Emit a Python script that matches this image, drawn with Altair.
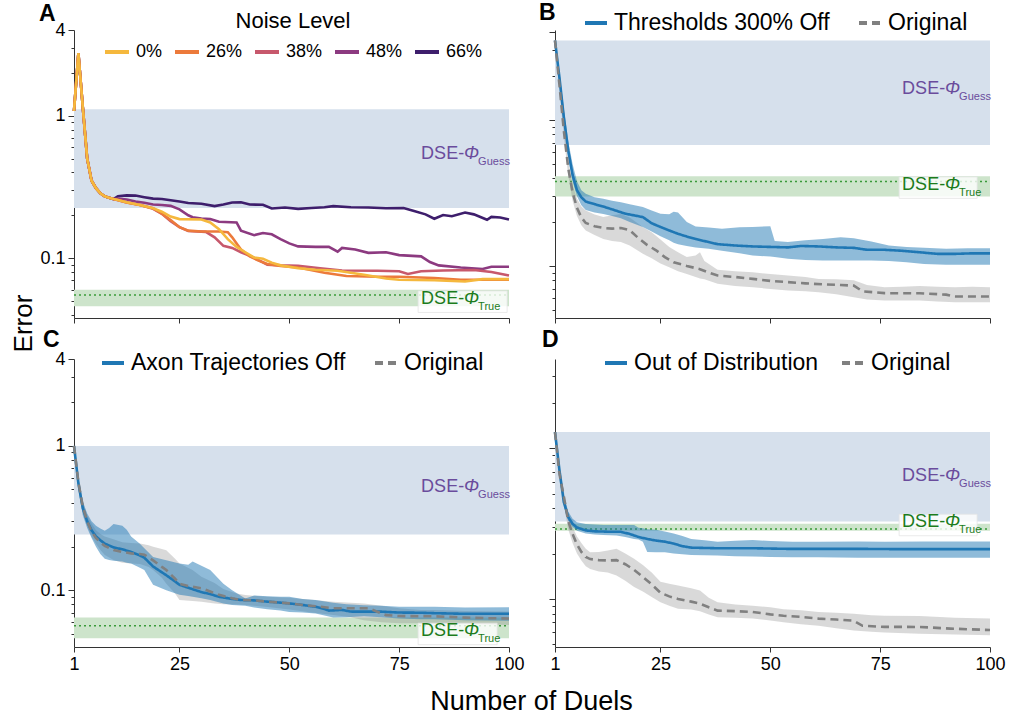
import altair as alt
import pandas as pd

FONT = "Liberation Sans"
W, H = 435, 288

# ---------------- data ----------------
NOISE_LEVELS = ["0%", "26%", "38%", "48%", "66%"]
NOISE_COLORS = ["#F5B83D", "#EC7A3B", "#C7586C", "#8C3A80", "#3E1E6C"]

A_START = [(1, 1.08), (2, 2.75), (3, 1.15), (4, 0.50), (5, 0.35), (6, 0.31),
           (7, 0.285), (8, 0.272), (9, 0.265), (10, 0.26)]
A_66 = [(11, 0.272), (13, 0.276), (15, 0.275), (17, 0.268), (19, 0.262), (21, 0.26), (23, 0.255),
        (25, 0.25), (27, 0.244), (30, 0.241), (33, 0.232), (35, 0.238), (37, 0.246), (39, 0.247),
        (41, 0.238), (44, 0.237), (46, 0.223), (49, 0.227), (52, 0.222), (55, 0.225), (58, 0.228),
        (60, 0.232), (64, 0.228), (68, 0.227), (72, 0.224), (76, 0.225), (78, 0.216), (81, 0.203),
        (83, 0.189), (85, 0.201), (87, 0.197), (90, 0.209), (92, 0.203), (95, 0.186), (96, 0.195),
        (98, 0.193), (100, 0.187)]
A_48 = [(11, 0.262), (13, 0.258), (15, 0.25), (17, 0.245), (19, 0.238), (21, 0.236), (23, 0.233),
        (25, 0.22), (27, 0.2), (28, 0.194), (30, 0.19), (32, 0.188), (34, 0.18), (38, 0.178),
        (39, 0.156), (42, 0.145), (44, 0.150), (46, 0.147), (48, 0.136), (50, 0.127), (52, 0.121),
        (56, 0.12), (59, 0.12), (61, 0.111), (62, 0.118), (65, 0.115), (68, 0.109), (72, 0.11),
        (75, 0.105), (80, 0.103), (82, 0.094), (84, 0.089), (89, 0.086), (94, 0.084), (96, 0.087),
        (100, 0.087)]
A_38 = [(11, 0.255), (13, 0.246), (16, 0.236), (19, 0.222), (21, 0.205), (23, 0.182), (25, 0.165),
        (27, 0.155), (31, 0.153), (33, 0.14), (35, 0.122), (37, 0.118), (39, 0.11), (41, 0.104),
        (43, 0.097), (45, 0.09), (48, 0.089), (52, 0.0885), (57, 0.085), (62, 0.082), (70, 0.0815),
        (75, 0.081), (77, 0.0775), (80, 0.081), (85, 0.082), (92, 0.0825), (96, 0.08), (100, 0.0755)]
A_26 = [(11, 0.256), (13, 0.246), (16, 0.236), (19, 0.224), (21, 0.205), (23, 0.185), (25, 0.165),
        (27, 0.156), (30, 0.154), (34, 0.154), (36, 0.152), (37, 0.14), (39, 0.115), (41, 0.103),
        (43, 0.096), (45, 0.091), (48, 0.088), (52, 0.086), (58, 0.079), (63, 0.075), (70, 0.074),
        (75, 0.074), (83, 0.0725), (89, 0.0705), (100, 0.0705)]
A_0 = [(11, 0.256), (13, 0.247), (16, 0.236), (19, 0.224), (21, 0.212), (23, 0.196), (25, 0.188),
       (30, 0.187), (32, 0.178), (34, 0.16), (36, 0.136), (38, 0.12), (40, 0.11), (42, 0.101),
       (44, 0.099), (46, 0.093), (48, 0.089), (52, 0.085), (56, 0.083), (61, 0.0815), (67, 0.0765),
       (72, 0.072), (75, 0.0705), (83, 0.070), (90, 0.0686), (94, 0.0712), (100, 0.0712)]

# panel B: thresholds 300% off
B_MAIN = [(1, 3.5), (2, 1.96), (3, 1.05), (4, 0.62), (5, 0.42), (6, 0.33), (7, 0.295), (8, 0.276),
          (10, 0.265), (12, 0.255), (14, 0.244), (17, 0.228), (19, 0.222), (21, 0.216), (23, 0.196),
          (25, 0.185), (27, 0.175), (29, 0.166), (31, 0.159), (33, 0.153), (35, 0.148), (38, 0.141),
          (42, 0.138), (46, 0.136), (50, 0.135), (54, 0.134), (57, 0.137), (61, 0.136), (65, 0.134),
          (69, 0.133), (72, 0.129), (76, 0.129), (80, 0.127), (84, 0.124), (88, 0.121), (92, 0.121),
          (96, 0.122), (100, 0.122)]
B_MAIN_BAND = [(1, 3.5, 3.5), (2, 1.8, 2.15), (3, 0.95, 1.2), (4, 0.55, 0.72), (5, 0.38, 0.5),
               (6, 0.3, 0.38), (7, 0.26, 0.33), (8, 0.242, 0.312), (10, 0.232, 0.296), (12, 0.227, 0.288),
               (14, 0.22, 0.28), (16, 0.212, 0.273), (18, 0.2, 0.265), (21, 0.185, 0.253), (23, 0.172, 0.24),
               (25, 0.16, 0.228), (27, 0.15, 0.226), (28, 0.144, 0.235), (29, 0.141, 0.232), (31, 0.137, 0.2),
               (33, 0.134, 0.186), (36, 0.131, 0.183), (39, 0.127, 0.18), (43, 0.122, 0.184), (46, 0.118, 0.185),
               (50, 0.116, 0.187), (51, 0.115, 0.148), (54, 0.112, 0.146), (58, 0.11, 0.15), (62, 0.109, 0.153),
               (66, 0.109, 0.157), (69, 0.109, 0.155), (73, 0.109, 0.147), (77, 0.108, 0.138), (81, 0.106, 0.135),
               (85, 0.103, 0.133), (90, 0.102, 0.131), (95, 0.102, 0.132), (100, 0.102, 0.132)]
B_ORIG = [(1, 3.5), (2, 1.75), (3, 0.85), (4, 0.47), (5, 0.32), (6, 0.25), (7, 0.215), (8, 0.197),
          (10, 0.187), (12, 0.182), (14, 0.18), (16, 0.182), (18, 0.176), (20, 0.155), (22, 0.139),
          (24, 0.128), (26, 0.115), (28, 0.106), (31, 0.1), (34, 0.095), (36, 0.09), (38, 0.086),
          (42, 0.084), (46, 0.0815), (50, 0.079), (54, 0.0775), (58, 0.076), (62, 0.0748), (66, 0.074),
          (69, 0.0733), (71, 0.067), (76, 0.0651), (84, 0.065), (90, 0.0636), (92, 0.0618), (100, 0.0617)]
B_ORIG_BAND = [(1, 3.5, 3.5), (2, 1.6, 1.9), (3, 0.77, 0.95), (4, 0.42, 0.53), (5, 0.28, 0.36),
               (6, 0.22, 0.29), (7, 0.19, 0.255), (8, 0.175, 0.24), (10, 0.163, 0.225), (12, 0.153, 0.216),
               (14, 0.148, 0.222), (16, 0.146, 0.227), (18, 0.138, 0.215), (21, 0.121, 0.185), (23, 0.113, 0.17),
               (25, 0.104, 0.152), (27, 0.098, 0.135), (29, 0.092, 0.124), (31, 0.088, 0.115), (33, 0.084, 0.118),
               (34, 0.082, 0.124), (35, 0.081, 0.108), (38, 0.0755, 0.094), (42, 0.073, 0.092), (46, 0.0715, 0.0905),
               (50, 0.0695, 0.088), (54, 0.0678, 0.086), (58, 0.067, 0.084), (61, 0.066, 0.0815), (65, 0.064, 0.081),
               (69, 0.0611, 0.0798), (72, 0.059, 0.074), (76, 0.058, 0.0715), (80, 0.058, 0.072), (84, 0.058, 0.073),
               (88, 0.057, 0.072), (92, 0.0563, 0.0715), (96, 0.0563, 0.072), (100, 0.0563, 0.0715)]

# panel C: axon trajectories off
C_MAIN = [(1, 1.0), (2, 0.55), (3, 0.37), (4, 0.30), (5, 0.26), (6, 0.236), (7, 0.222), (8, 0.21),
          (10, 0.198), (12, 0.192), (14, 0.184), (16, 0.174), (17, 0.168), (19, 0.146), (21, 0.133),
          (22, 0.127), (24, 0.115), (25, 0.109), (27, 0.104), (30, 0.097), (32, 0.094), (34, 0.09),
          (37, 0.087), (39, 0.0855), (42, 0.085), (45, 0.0833), (48, 0.082), (50, 0.081), (53, 0.079),
          (56, 0.0767), (58, 0.074), (59, 0.0722), (62, 0.073), (64, 0.0711), (68, 0.071), (71, 0.071),
          (75, 0.07), (80, 0.0698), (83, 0.0693), (90, 0.0686), (100, 0.0686)]
C_MAIN_BAND = [(1, 1.0, 1.0), (2, 0.5, 0.6), (3, 0.33, 0.41), (4, 0.27, 0.34), (5, 0.23, 0.3),
               (6, 0.2, 0.28), (7, 0.178, 0.268), (8, 0.165, 0.258), (9, 0.162, 0.27), (10, 0.16, 0.288),
               (12, 0.158, 0.28), (13, 0.155, 0.262), (14, 0.153, 0.236), (16, 0.143, 0.21), (17, 0.138, 0.195),
               (19, 0.109, 0.17), (22, 0.1, 0.161), (25, 0.093, 0.153), (27, 0.091, 0.15), (28, 0.09, 0.158),
               (30, 0.088, 0.148), (32, 0.0855, 0.138), (35, 0.081, 0.111), (37, 0.079, 0.1), (40, 0.078, 0.0876),
               (42, 0.076, 0.092), (45, 0.0739, 0.0909), (48, 0.0722, 0.09), (50, 0.0706, 0.0899), (53, 0.07, 0.087),
               (56, 0.069, 0.0855), (60, 0.0646, 0.082), (63, 0.065, 0.08), (67, 0.066, 0.0785), (71, 0.065, 0.078),
               (75, 0.0637, 0.0767), (80, 0.063, 0.0767), (83, 0.063, 0.0767), (90, 0.062, 0.076), (100, 0.0613, 0.0761)]
C_ORIG = [(1, 1.0), (2, 0.56), (3, 0.38), (4, 0.3), (5, 0.255), (6, 0.23), (7, 0.215), (8, 0.203),
          (10, 0.19), (12, 0.184), (14, 0.18), (16, 0.178), (17, 0.176), (19, 0.161), (21, 0.145),
          (22, 0.138), (24, 0.12), (25, 0.111), (27, 0.107), (30, 0.103), (32, 0.098), (34, 0.0928),
          (37, 0.088), (39, 0.0855), (42, 0.085), (45, 0.0833), (50, 0.081), (53, 0.079), (56, 0.0775),
          (60, 0.0749), (64, 0.075), (68, 0.0749), (70, 0.071), (72, 0.0672), (75, 0.0662), (80, 0.066),
          (83, 0.066), (90, 0.0646), (95, 0.064), (100, 0.0637)]
C_ORIG_BAND = [(1, 1.0, 1.0), (2, 0.52, 0.6), (3, 0.35, 0.42), (4, 0.28, 0.33), (5, 0.235, 0.29),
               (6, 0.21, 0.26), (7, 0.19, 0.245), (8, 0.175, 0.236), (10, 0.162, 0.225), (12, 0.155, 0.215),
               (14, 0.153, 0.212), (16, 0.152, 0.211), (18, 0.145, 0.205), (19, 0.138, 0.2), (21, 0.122, 0.193),
               (22, 0.111, 0.189), (24, 0.095, 0.165), (25, 0.0855, 0.153), (28, 0.084, 0.138), (30, 0.083, 0.124),
               (33, 0.081, 0.112), (35, 0.08, 0.102), (38, 0.0795, 0.095), (40, 0.079, 0.0925), (45, 0.0765, 0.09),
               (50, 0.0735, 0.0885), (55, 0.07, 0.086), (60, 0.0672, 0.0833), (64, 0.065, 0.082), (67, 0.062, 0.081),
               (71, 0.06, 0.078), (75, 0.0589, 0.0749), (80, 0.0589, 0.073), (83, 0.0588, 0.073), (90, 0.0585, 0.0718),
               (100, 0.0573, 0.0711)]

# panel D: out of distribution
D_MAIN = [(1, 1.28), (2, 0.72), (3, 0.44), (4, 0.35), (5, 0.315), (6, 0.298), (8, 0.285), (10, 0.281),
          (12, 0.28), (14, 0.279), (16, 0.279), (18, 0.27), (20, 0.258), (22, 0.25), (24, 0.244), (26, 0.24),
          (28, 0.233), (30, 0.224), (32, 0.219), (35, 0.218), (38, 0.217), (42, 0.217), (46, 0.217),
          (50, 0.216), (54, 0.215), (60, 0.215), (70, 0.215), (80, 0.214), (90, 0.214), (100, 0.214)]
D_MAIN_BAND = [(1, 1.28, 1.28), (2, 0.68, 0.77), (3, 0.42, 0.485), (4, 0.33, 0.38), (5, 0.3, 0.34),
               (6, 0.283, 0.323), (8, 0.272, 0.314), (10, 0.268, 0.312), (12, 0.266, 0.31), (15, 0.264, 0.31),
               (17, 0.258, 0.31), (19, 0.25, 0.31), (20, 0.248, 0.297), (21, 0.24, 0.295), (22, 0.205, 0.29),
               (24, 0.204, 0.288), (26, 0.204, 0.28), (28, 0.2, 0.272), (30, 0.198, 0.262), (32, 0.196, 0.25),
               (35, 0.195, 0.245), (38, 0.194, 0.24), (42, 0.192, 0.243), (46, 0.191, 0.246), (50, 0.19, 0.242),
               (55, 0.189, 0.24), (61, 0.189, 0.24), (70, 0.188, 0.241), (76, 0.188, 0.24), (85, 0.188, 0.241),
               (100, 0.188, 0.241)]
D_ORIG = [(1, 1.28), (2, 0.68), (3, 0.48), (4, 0.33), (5, 0.27), (6, 0.23), (7, 0.205), (8, 0.19),
          (9, 0.184), (11, 0.181), (13, 0.18), (15, 0.181), (17, 0.17), (19, 0.156), (21, 0.14), (23, 0.125),
          (25, 0.11), (27, 0.104), (29, 0.1), (32, 0.096), (34, 0.093), (36, 0.088), (38, 0.0837), (42, 0.083),
          (46, 0.082), (50, 0.079), (53, 0.0774), (57, 0.076), (61, 0.0741), (65, 0.073), (69, 0.0717),
          (71, 0.0664), (76, 0.0653), (84, 0.0652), (91, 0.0636), (100, 0.0622)]
D_ORIG_BAND = [(1, 1.28, 1.28), (2, 0.62, 0.74), (3, 0.43, 0.52), (4, 0.29, 0.37), (5, 0.235, 0.3),
               (6, 0.2, 0.26), (7, 0.18, 0.235), (8, 0.165, 0.215), (9, 0.158, 0.204), (11, 0.152, 0.205),
               (13, 0.15, 0.21), (15, 0.143, 0.215), (17, 0.132, 0.2), (19, 0.12, 0.185), (21, 0.112, 0.168),
               (23, 0.103, 0.15), (25, 0.095, 0.13), (27, 0.09, 0.126), (29, 0.086, 0.123), (32, 0.085, 0.118),
               (34, 0.083, 0.114), (36, 0.079, 0.102), (38, 0.0757, 0.095), (42, 0.075, 0.092), (46, 0.0741, 0.0902),
               (50, 0.072, 0.088), (53, 0.07, 0.0856), (57, 0.068, 0.084), (61, 0.0665, 0.0818), (65, 0.064, 0.081),
               (69, 0.0617, 0.0797), (73, 0.0605, 0.078), (76, 0.06, 0.0774), (84, 0.0588, 0.0772), (92, 0.058, 0.075),
               (100, 0.0574, 0.0741)]

# reference bands: (low, high), dotted level, label positions
GUESS_BAND = {"A": (0.225, 1.11), "B": (0.674, 3.5), "C": (0.243, 1.0), "D": (0.326, 1.28)}
TRUE_BAND = {"A": (0.046, 0.0599), "B": (0.299, 0.411), "C": (0.0465, 0.0646), "D": (0.284, 0.315)}
TRUE_DOT = {"A": 0.0552, "B": 0.379, "C": 0.0566, "D": 0.291}
GUESS_LABEL_Y = {"A": 0.535, "B": 1.63, "C": 0.52, "D": 0.658}
TRUE_LABEL_Y = {"A": 0.0517, "B": 0.359, "C": 0.052, "D": 0.323}
LABEL_X = 80
Y_DOMAIN = {"A": (0.038, 4.0), "B": (0.044, 4.13), "C": (0.0404, 4.0), "D": (0.048, 3.91)}
SERIES_NAMES = {"B": "Thresholds 300% Off", "C": "Axon Trajectories Off", "D": "Out of Distribution"}
X_TICKS = [1, 25, 50, 75, 100]
Y_TICKS = [0.04, 0.05, 0.06, 0.07, 0.08, 0.09, 0.1, 0.2, 0.3, 0.4, 0.5, 0.6, 0.7, 0.8, 0.9, 1, 2, 3, 4]

# ---------------- styling constants ----------------
GUESS_FILL = "#D6E0EC"
TRUE_FILL = "#CDE4CB"
DOT_COLOR = "#3A9A3A"
GUESS_TEXT = "#6A4C9C"
TRUE_TEXT = "#1C7C1C"
BLUE = "#1F77B4"
GRAY = "#808080"
MAJOR = "datum.value == 0.1 || datum.value == 1 || datum.value == 4"

LEGEND_POS = {"B": (28, -20), "C": (26, -9), "D": (48, -9)}
LEGEND_COLPAD = {"B": 21, "C": 21, "D": 15}
LETTER_POS = {"A": (-35, -9), "B": (-16, -10), "C": (-31, -12), "D": (-13, -12)}
BOX_W = {"A": 89, "B": 78, "C": 79, "D": 78}


def encodings(p):
    lo, hi = Y_DOMAIN[p]
    vals = [v for v in Y_TICKS if lo <= v <= hi]
    ykw = dict(values=vals, labelOverlap=False, domainColor="#333333", tickColor="#333333",
               tickSize={"condition": {"test": MAJOR, "value": 6}, "value": 3})
    if p in ("A", "C"):
        ykw["labelExpr"] = "datum.value == 4 ? '4' : (datum.value == 1 ? '1' : (datum.value == 0.1 ? '0.1' : ''))"
    else:
        ykw["labels"] = False
    ytitle = None
    if p == "A":
        ytitle = "Error"
        ykw.update(titleX=-51, titleY=293, titleAngle=270, titleAlign="center",
                   titleBaseline="middle", titleFontSize=26)
    xkw = dict(values=X_TICKS, tickSize=5, labelFlush=False, labelPadding=3,
               domainColor="#333333", tickColor="#333333")
    if p in ("A", "B"):
        xkw["labels"] = False
    xtitle = None
    if p == "C":
        xtitle = "Number of Duels"
        xkw.update(titleX=457, titleY=62, titleAlign="center", titleBaseline="alphabetic",
                   titleFontSize=27)
    xs = alt.Scale(domain=[1, 100], nice=False, zero=False)
    ys = alt.Scale(type="log", domain=[lo, hi], nice=False)
    X = alt.X("x:Q", scale=xs, axis=alt.Axis(**xkw), title=xtitle)
    Y = alt.Y("y:Q", scale=ys, axis=alt.Axis(**ykw), title=ytitle)
    return X, Y


def ref_layers(p, X, Y):
    g_lo, g_hi = GUESS_BAND[p]
    t_lo, t_hi = TRUE_BAND[p]
    guess = alt.Chart(pd.DataFrame({"x": [1], "x2": [100], "y": [g_lo], "y2": [g_hi]})).mark_rect(
        color=GUESS_FILL).encode(x=X, x2="x2:Q", y=Y, y2="y2:Q")
    true = alt.Chart(pd.DataFrame({"x": [1], "x2": [100], "y": [t_lo], "y2": [t_hi]})).mark_rect(
        color=TRUE_FILL).encode(x=X, x2="x2:Q", y=Y, y2="y2:Q")
    dot = alt.Chart(pd.DataFrame({"x": [1], "x2": [100], "y": [TRUE_DOT[p]]})).mark_rule(
        color=DOT_COLOR, strokeDash=[2, 3], strokeWidth=1.5).encode(x=X, x2="x2:Q", y=Y)
    return [guess, true, dot]


def label_layers(p, X, Y):
    gy = GUESS_LABEL_Y[p]
    ty = TRUE_LABEL_Y[p]
    box = alt.Chart(pd.DataFrame({"x": [LABEL_X], "y": [ty]})).mark_rect(
        fill="white", fillOpacity=0.8, stroke="#E4E4E4", strokeWidth=0.8,
        xOffset=-3, x2Offset=BOX_W[p] - 3, yOffset=-8, y2Offset=13.5).encode(
        x=X, x2="x:Q", y=Y, y2="y:Q")
    out = [box]
    for yv, color, sub in ((gy, GUESS_TEXT, "Guess"), (ty, TRUE_TEXT, "True")):
        d = pd.DataFrame({"x": [LABEL_X], "y": [yv]})
        base = alt.Chart(d)
        out.append(base.mark_text(text="DSE-", color=color, font=FONT, fontSize=18, align="left",
                                  baseline="middle").encode(x=X, y=Y))
        out.append(base.mark_text(text="Φ", color=color, font=FONT, fontSize=18, fontStyle="italic",
                                  align="left", baseline="middle", dx=43).encode(x=X, y=Y))
        out.append(base.mark_text(text=sub, color=color, font=FONT, fontSize=11, align="left",
                                  baseline="middle", dx=57, dy=8).encode(x=X, y=Y))
    return out


def letter_layer(p):
    lx, ly = LETTER_POS[p]
    return alt.Chart(pd.DataFrame({"t": [p]})).mark_text(
        font=FONT, fontSize=23, fontWeight="bold", align="left", baseline="alphabetic", color="black"
    ).encode(x=alt.value(lx), y=alt.value(ly), text="t:N")


def to_df(pairs, **extra):
    df = pd.DataFrame(pairs, columns=["x", "y"])
    for k, v in extra.items():
        df[k] = v
    return df


def band_df(triples):
    return pd.DataFrame(triples, columns=["x", "y", "y2"])


# ---------------- panel A ----------------
XA, YA = encodings("A")
a_series = [("66%", A_66), ("48%", A_48), ("38%", A_38), ("26%", A_26), ("0%", A_0)]
a_df = pd.concat([to_df(A_START + tail, noise=name) for name, tail in a_series], ignore_index=True)
a_lines = alt.Chart(a_df).mark_line(strokeWidth=2.6).encode(
    x=XA, y=YA,
    color=alt.Color("noise:N", scale=alt.Scale(domain=NOISE_LEVELS, range=NOISE_COLORS),
                    legend=alt.Legend(title="Noise Level", orient="none", legendX=29, legendY=-19,
                                      direction="horizontal", columns=5, symbolType="stroke",
                                      symbolStrokeWidth=4, symbolSize=576, labelFontSize=18,
                                      labelOffset=5, columnPadding=4, titleFontSize=22,
                                      titleAnchor="middle", titlePadding=5, padding=0,
                                      titleFontWeight="normal", titleFont=FONT, labelFont=FONT,
                                      labelColor="black", titleColor="black")),
)
panel_A = alt.layer(*ref_layers("A", XA, YA), a_lines, *label_layers("A", XA, YA),
                    letter_layer("A")).properties(width=W, height=H)


def comparison_panel(p, main, main_band, orig, orig_band):
    X, Y = encodings(p)
    name = SERIES_NAMES[p]
    gray_band = alt.Chart(band_df(orig_band)).mark_area(color=GRAY, opacity=0.3).encode(
        x=X, y=Y, y2="y2:Q")
    blue_band = alt.Chart(band_df(main_band)).mark_area(color=BLUE, opacity=0.5).encode(
        x=X, y=Y, y2="y2:Q")
    lines_df = pd.concat([to_df(main, series=name), to_df(orig, series="Original")], ignore_index=True)
    lx, ly = LEGEND_POS[p]
    leg = alt.Legend(title=None, orient="none", legendX=lx, legendY=ly, direction="horizontal",
                     columns=2, symbolType="stroke", symbolStrokeWidth=4, symbolSize=484,
                     labelFontSize=23, labelOffset=5, columnPadding=LEGEND_COLPAD[p], padding=0,
                     labelFont=FONT, labelColor="black", labelLimit=400)
    lines = alt.Chart(lines_df).mark_line(strokeWidth=2.6).encode(
        x=X, y=Y,
        color=alt.Color("series:N", scale=alt.Scale(domain=[name, "Original"], range=[BLUE, GRAY]),
                        legend=leg),
        strokeDash=alt.StrokeDash("series:N",
                                  scale=alt.Scale(domain=[name, "Original"], range=[[1, 0], [8, 5]]),
                                  legend=leg),
    )
    return alt.layer(*ref_layers(p, X, Y), gray_band, blue_band, lines, *label_layers(p, X, Y),
                     letter_layer(p)).properties(width=W, height=H)


panel_B = comparison_panel("B", B_MAIN, B_MAIN_BAND, B_ORIG, B_ORIG_BAND)
panel_C = comparison_panel("C", C_MAIN, C_MAIN_BAND, C_ORIG, C_ORIG_BAND)
panel_D = comparison_panel("D", D_MAIN, D_MAIN_BAND, D_ORIG, D_ORIG_BAND)

chart = alt.concat(panel_A, panel_B, panel_C, panel_D, columns=2,
                   spacing={"row": 41, "column": 46}, bounds="flush").resolve_scale(
    x="independent", y="independent", color="independent", strokeDash="independent"
).resolve_legend(color="independent", strokeDash="independent").properties(
    padding={"left": 10, "top": 2, "right": 5, "bottom": 6}
).configure_view(strokeWidth=0).configure_axis(
    grid=False, labelFont=FONT, labelFontSize=18, labelColor="black", titleFont=FONT,
    titleColor="black", titleFontWeight="normal", domainWidth=1, tickWidth=1, labelPadding=3
).configure_legend(labelFont=FONT, titleFont=FONT)

chart.save("out.html", embed_options={"renderer": "svg", "actions": False})
